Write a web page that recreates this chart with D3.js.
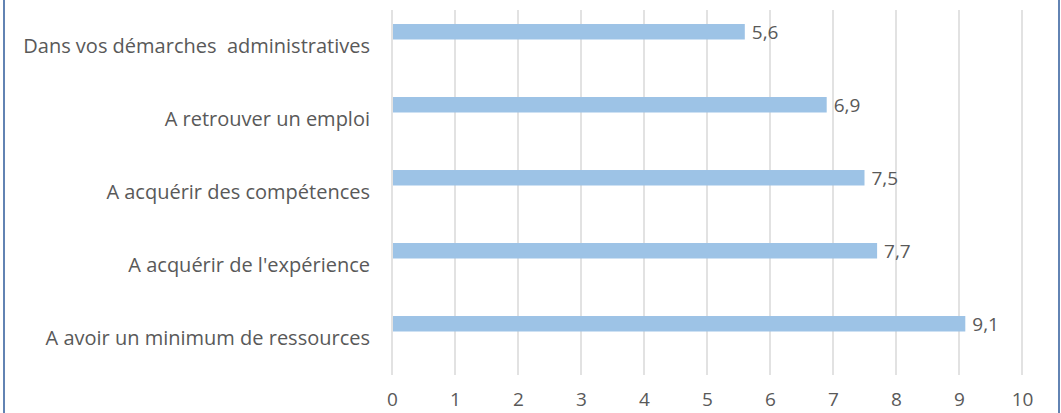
<!DOCTYPE html>
<html>
<head>
<meta charset="utf-8">
<script src="https://cdn.jsdelivr.net/npm/d3@7"></script>
<style>
  body { margin: 0; background: #fff; }
  text { font-family: "Open Sans", sans-serif; fill: #595959; white-space: pre; }
</style>
</head>
<body>
<div id="chart"></div>
<script>
var categories = [
    "Dans vos démarches  administratives",
    "A retrouver un emploi",
    "A acquérir des compétences",
    "A acquérir de l'expérience",
    "A avoir un minimum de ressources"
];
var values = [5.6, 6.9, 7.5, 7.7, 9.1];
var tickValues = [0, 1, 2, 3, 4, 5, 6, 7, 8, 9, 10];

var totalWidth = 1061,
    totalHeight = 413,
    margin = {top: 10, right: 39, bottom: 38, left: 392},
    width = totalWidth - margin.left - margin.right,
    height = totalHeight - margin.top - margin.bottom;

var svg = d3.select("#chart")
    .append("svg")
    .attr("width", totalWidth)
    .attr("height", totalHeight);

// frame (only the sides show in the picture)
svg.append("line")
    .attr("x1", 4).attr("x2", 4).attr("y1", 0).attr("y2", totalHeight)
    .style("stroke", "#6283b3").style("stroke-width", 2);
svg.append("line")
    .attr("x1", 1059).attr("x2", 1059).attr("y1", 0).attr("y2", totalHeight)
    .style("stroke", "#6283b3").style("stroke-width", 2);

var chartgroup = svg.append("g")
    .attr("transform", "translate(" + margin.left + "," + margin.top + ")");

var x = d3.scaleLinear()
    .domain([0, 10])
    .range([0, width]);

var y = d3.scaleBand()
    .domain(categories)
    .range([0, height]);

// gridlines
chartgroup.selectAll(".grid")
    .data(tickValues)
    .enter()
    .append("line")
    .attr("x1", d => x(d))
    .attr("x2", d => x(d))
    .attr("y1", 0)
    .attr("y2", height)
    .style("stroke", "#d9d9d9")
    .style("stroke-width", 1.5);

// x axis labels
var xAxis = chartgroup.append("g")
    .attr("transform", "translate(0," + height + ")")
    .call(d3.axisBottom(x).tickValues(tickValues).tickSize(0).tickPadding(18).tickFormat(d3.format("d")));
xAxis.select(".domain").remove();
xAxis.selectAll("text")
    .style("font-size", "19px")
    .style("fill", "#595959")
    .style("font-family", "Open Sans, sans-serif");

// category labels
var yAxis = chartgroup.append("g")
    .call(d3.axisLeft(y).tickSize(0).tickPadding(22));
yAxis.select(".domain").remove();
yAxis.selectAll("text")
    .style("font-size", "20px")
    .style("fill", "#595959")
    .style("font-family", "Open Sans, sans-serif");

// bars sit in the upper part of each band
var barOffset = y.bandwidth() * 0.192,
    barHeight = y.bandwidth() * 0.212;

chartgroup.append("g")
    .selectAll("rect")
    .data(values)
    .enter()
    .append("rect")
    .attr("x", x(0) + 1)
    .attr("y", (d, i) => y(categories[i]) + barOffset)
    .attr("width", d => x(d) - x(0) - 1)
    .attr("height", barHeight)
    .style("fill", "#9dc3e6");

chartgroup.selectAll(".val")
    .data(values)
    .enter()
    .append("text")
    .text(d => d3.format(".1f")(d).replace(".", ","))
    .attr("x", d => x(d) + 7)
    .attr("y", (d, i) => y(categories[i]) + barOffset + barHeight / 2)
    .attr("dominant-baseline", "central")
    .style("font-size", "19px");
</script>
</body>
</html>
